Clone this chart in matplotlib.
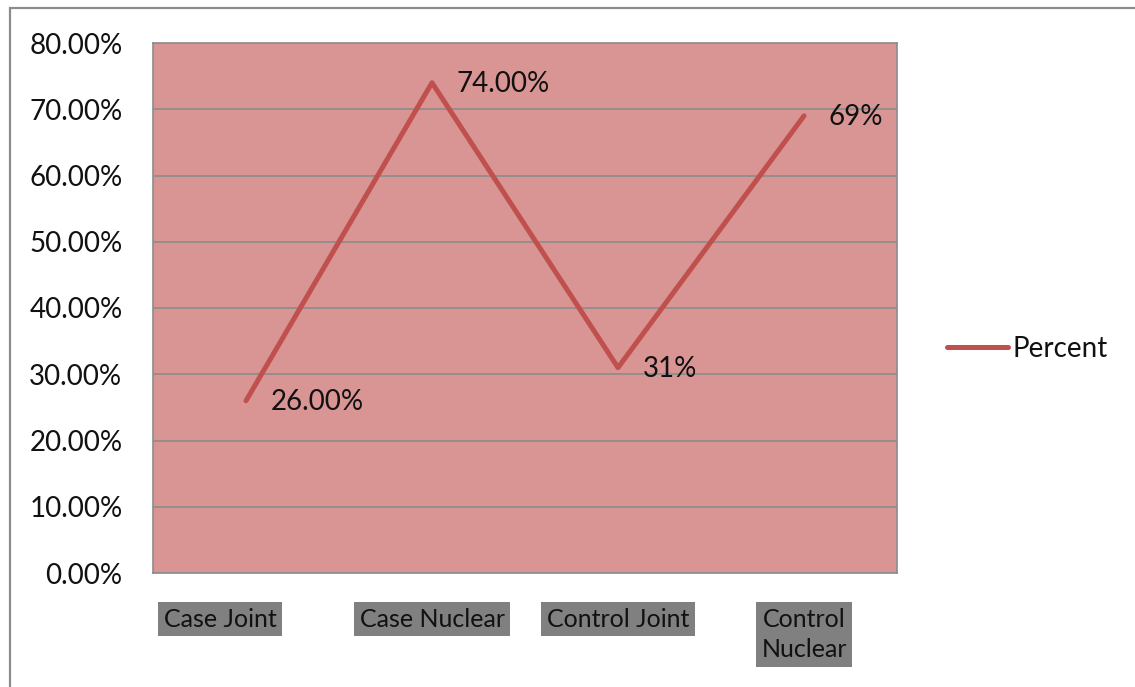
import matplotlib
matplotlib.use("Agg")
import matplotlib.pyplot as plt
import matplotlib.transforms as mtransforms
from matplotlib.patches import Rectangle

categories = ["Case Joint", "Case Nuclear", "Control Joint", "Control\nNuclear"]
values = [26.0, 74.0, 31.0, 69.0]
point_labels = ["26.00%", "74.00%", "31%", "69%"]
yticks = [0, 10, 20, 30, 40, 50, 60, 70, 80]
ytick_labels = ["%.2f%%" % v for v in yticks]
series_name = "Percent"

font_main = ["Lato", "DejaVu Sans"]
font_narrow = ["Liberation Sans Narrow", "Lato", "DejaVu Sans"]

fig = plt.figure(figsize=(11.35, 6.87), dpi=100)
fig.patch.set_facecolor("white")

# outer chart border
fig.patches.append(Rectangle((10 / 1135, -0.05), 1.2, 1 - 8 / 687 + 0.05,
                             transform=fig.transFigure, fill=False,
                             edgecolor="#8c8c8c", linewidth=1.6, zorder=0))

ax = fig.add_axes([153 / 1135, 1 - 573 / 687, (897 - 153) / 1135, (573 - 43) / 687])
ax.set_facecolor("#D99594")

x = list(range(len(categories)))
line, = ax.plot(x, values, color="#C0504D", linewidth=3.6, solid_capstyle="round",
                label=series_name, zorder=3)

for xi, v, lab in zip(x, values, point_labels):
    ax.annotate(lab, (xi, v), xytext=(18, -1), textcoords="offset points",
                ha="left", va="center", fontsize=20, family=font_main, color="#111111")

ax.set_xlim(-0.5, len(categories) - 0.5)
ax.set_ylim(0, 80)
ax.set_yticks(yticks)
ax.set_yticklabels(ytick_labels, family=font_main, fontsize=20, color="#111111")
ax.yaxis.grid(True, color="#8c8c8c", linewidth=1.2)
ax.set_axisbelow(True)
ax.tick_params(axis="both", length=0)
ax.tick_params(axis="y", pad=22)
ax.set_xticks(x)
ax.set_xticklabels(categories, family=font_narrow, fontsize=18, color="#111111",
                   va="top", linespacing=1.4)
ax.tick_params(axis="x", pad=25)
for i, t in enumerate(ax.get_xticklabels()):
    t.set_bbox(dict(facecolor="#808080", edgecolor="none", pad=4))
    if i == 0:
        t.set_transform(t.get_transform() + mtransforms.ScaledTranslation(-26 / 100, 0, fig.dpi_scale_trans))

for s in ax.spines.values():
    s.set_color("#8c8c8c")
    s.set_linewidth(1.2)

leg = fig.legend(handles=[line], labels=[series_name], loc="center left",
                 bbox_to_anchor=(933 / 1135, 1 - 349 / 687), frameon=False,
                 prop={"family": font_main, "size": 20}, handlelength=2.2,
                 handletextpad=0.15, borderpad=0)
for t in leg.get_texts():
    t.set_color("#111111")

fig.savefig("out.png", dpi=100)
